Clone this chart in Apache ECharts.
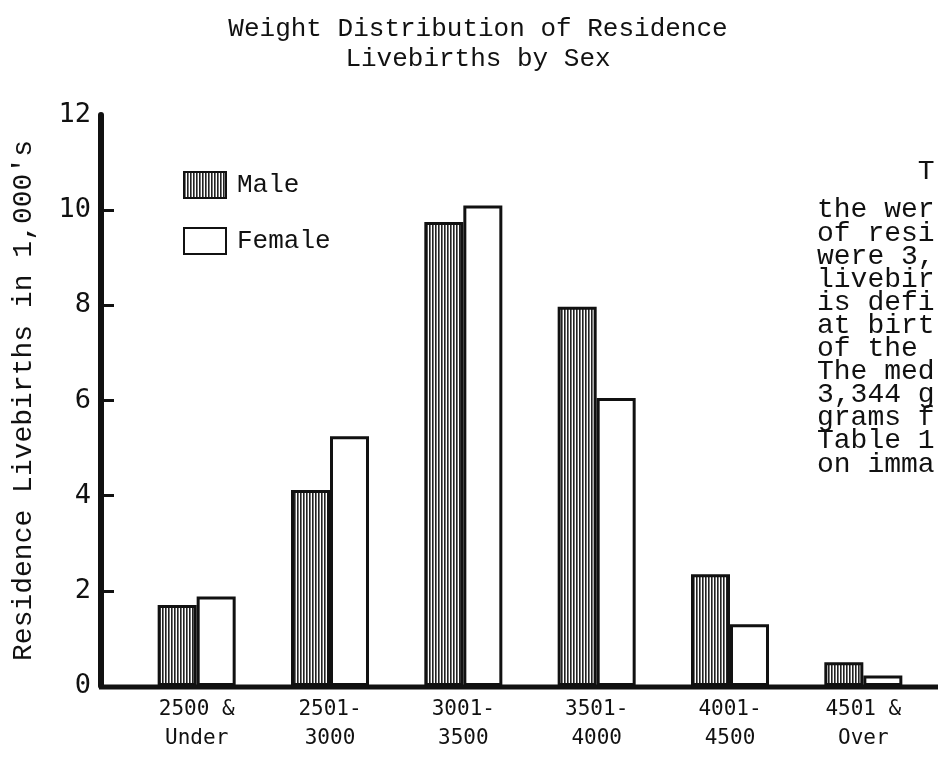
<!DOCTYPE html>
<html>
<head>
<meta charset="utf-8">
<script src="https://cdn.jsdelivr.net/npm/echarts@6/dist/echarts.min.js"></script>
<style>
html,body{margin:0;padding:0;background:#fff;}
#c{width:938px;height:776px;}
</style>
</head>
<body>
<div id="c"></div>
<script>
const categories = ['2500 &\nUnder', '2501-\n3000', '3001-\n3500', '3501-\n4000', '4001-\n4500', '4501 &\nOver'];
const maleValues = [1.7, 4.12, 9.75, 7.97, 2.35, 0.5];
const femaleValues = [1.88, 5.25, 10.1, 6.05, 1.3, 0.22];
const yTicks = [0, 2, 4, 6, 8, 10, 12];
const paragraphLines = ['      T', 'the wer', 'of resi', 'were 3,', 'livebir', 'is defi', 'at birt', 'of the', 'The med', '3,344 g', 'grams f', 'Table 1', 'on imma'];

const ink = '#111';
const mono = 'Liberation Mono';
const sansMono = 'DejaVu Sans Mono';

// vertical stripe pattern for male bars
const pc = document.createElement('canvas');
pc.width = 3; pc.height = 4;
const pctx = pc.getContext('2d');
pctx.fillStyle = '#fff'; pctx.fillRect(0, 0, 3, 4);
pctx.fillStyle = '#222'; pctx.fillRect(0, 0, 1, 4);
pctx.fillStyle = '#777'; pctx.fillRect(1, 0, 1, 4);
const stripe = { image: pc, repeat: 'repeat' };

const chart = echarts.init(document.getElementById('c'), null, { renderer: 'canvas' });
chart.setOption({
  animation: false,
  backgroundColor: '#fff',
  title: {
    text: 'Weight Distribution of Residence\nLivebirths by Sex',
    left: 473, top: 9, textAlign: 'center',
    textStyle: { fontFamily: mono, fontSize: 26, fontWeight: 'normal', color: ink, lineHeight: 30 }
  },
  legend: {
    orient: 'vertical', left: 178, top: 166, itemWidth: 42, itemHeight: 26, itemGap: 28,
    icon: 'rect',
    textStyle: { fontFamily: mono, fontSize: 26, color: ink, padding: [0, 0, 0, 6] },
    data: ['Male', 'Female']
  },
  grid: { left: 130, right: 8, top: 115, bottom: 90 },
  xAxis: {
    type: 'category', data: categories,
    axisLine: { show: false }, axisTick: { show: false },
    axisLabel: { fontFamily: sansMono, fontSize: 21, color: ink, lineHeight: 29, margin: 9 }
  },
  yAxis: {
    type: 'value', min: 0, max: 12, interval: 2, offset: 29,
    splitLine: { show: false },
    axisLine: { show: true, lineStyle: { color: ink, width: 6 } },
    axisTick: { show: true, inside: true, length: 13, lineStyle: { color: ink, width: 3 }, customValues: yTicks.slice(1, -1) },
    axisLabel: { fontFamily: sansMono, fontSize: 27, color: ink, margin: 10, customValues: yTicks },
    name: "Residence Livebirths in 1,000's", nameLocation: 'middle', nameGap: 63, nameRotate: 90,
    nameTextStyle: { fontFamily: mono, fontSize: 28, color: ink }
  },
  series: [
    { name: 'Male', type: 'bar', data: maleValues, barWidth: 39, barGap: '0%',
      itemStyle: { color: stripe, borderColor: ink, borderWidth: 3 } },
    { name: 'Female', type: 'bar', data: femaleValues, barWidth: 39,
      itemStyle: { color: '#fff', borderColor: ink, borderWidth: 3 } }
  ]
});

const y0 = chart.convertToPixel({ yAxisIndex: 0 }, 0);
const graphics = [{
  type: 'line', z: 10,
  shape: { x1: 99, y1: y0 + 1, x2: 938, y2: y0 + 1 },
  style: { stroke: ink, lineWidth: 5 }
}];
paragraphLines.forEach((t, i) => {
  graphics.push({
    type: 'text', left: 817, top: (i === 0 ? 158 : 196 + (i - 1) * 23.1),
    style: { text: t, font: '28px "' + mono + '"', fill: ink }
  });
});
chart.setOption({ graphic: graphics });
</script>
</body>
</html>
